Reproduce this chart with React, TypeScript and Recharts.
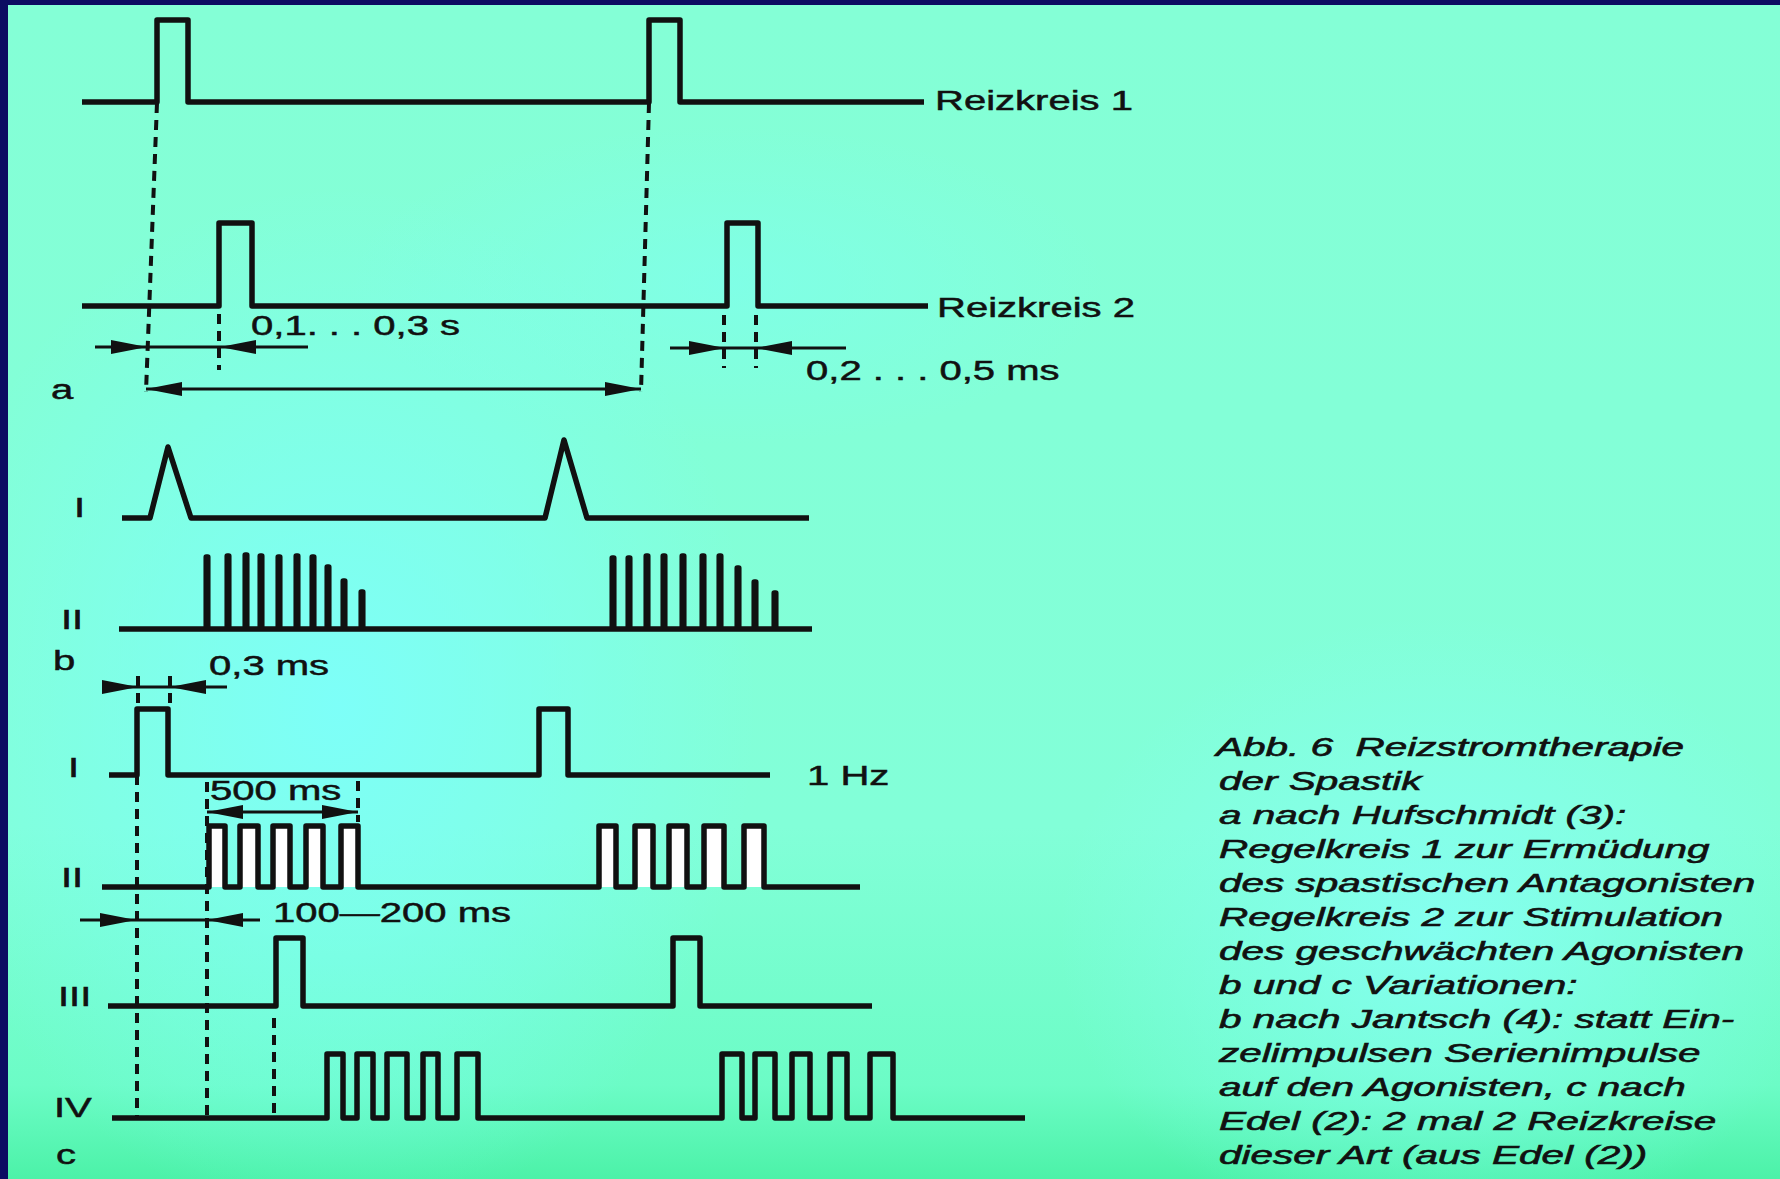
import { ComposedChart, Line, Scatter, XAxis, YAxis, ReferenceDot } from 'recharts'

// Abb. 6 Reizstromtherapie der Spastik – Impulsformen (a, b, c)
// Koordinaten: Pixel der Vorlage (x nach rechts, y nach unten)

const W = 1780
const H = 1179
const INK = '#111111'
const FONT = "'Liberation Sans', Arial, Helvetica, sans-serif"

// --- a: Reizkreis 1 / 2 (Einzelimpulse: [Anstieg, Abfall]) ---
const a1Pulses = [[157, 188], [649, 680]]
const a1Line = { start: 82, end: 924, base: 102, top: 20 }
const a2Pulses = [[219, 252], [727, 758]]
const a2Line = { start: 82, end: 928, base: 306, top: 223 }

// --- b I: Dreiecksimpulse [links, Spitze, rechts, Spitzenhöhe] ---
const b1Triangles = [[150, 168, 191, 447], [545, 564, 587, 440]]
const b1Line = { start: 122, end: 809, base: 518 }

// --- b II: Serienimpulse (Nadeln) ---
const b2SpikeX = [207, 228, 246, 261, 279, 297, 313, 328, 344, 362, 613, 629, 647, 664, 683, 703, 720, 738, 755, 775]
const b2SpikeTop = [557, 556, 555, 556, 557, 556, 557, 567, 581, 592, 558, 558, 556, 556, 556, 556, 556, 568, 582, 593]
const b2Line = { start: 119, end: 812, base: 629 }

// --- c I–IV ---
const c1Pulses = [[137, 168], [539, 568]]
const c1Line = { start: 109, end: 770, base: 775, top: 709 }
const c2Pulses = [[209, 225], [240, 258], [273, 290], [306, 323], [341, 358], [599, 616], [635, 653], [669, 687], [704, 724], [744, 764]]
const c2Line = { start: 102, end: 860, base: 887, top: 826 }
const c3Pulses = [[276, 303], [673, 700]]
const c3Line = { start: 108, end: 872, base: 1006, top: 938 }
const c4Pulses = [[327, 343], [357, 373], [387, 407], [423, 438], [457, 478], [722, 742], [755, 775], [792, 810], [830, 847], [870, 893]]
const c4Line = { start: 112, end: 1025, base: 1118, top: 1054 }

// gestrichelte Hilfslinien [x1, y1, x2, y2]
const dashedGuides = [
  [157, 103, 146, 392], [649, 103, 641, 392],
  [219, 314, 219, 370], [724, 315, 724, 368], [756, 315, 756, 368],
  [138, 676, 138, 705], [170, 676, 170, 705],
  [137, 775, 137, 1118], [207, 782, 207, 1118], [358, 781, 358, 822], [274, 1018, 274, 1117],
]

// Maßlinien [x1, x2, y]
const dimLines = [
  [95, 308, 347], [670, 846, 348], [146, 641, 389],
  [102, 227, 687], [207, 358, 812], [80, 260, 920],
]

// Pfeilspitzen [Spitze x, y, Richtung]
const arrowTips: [number, number, string][] = [
  [147, 347, 'r'], [220, 347, 'l'], [725, 348, 'r'], [756, 348, 'l'], [146, 389, 'l'], [641, 389, 'r'],
  [138, 687, 'r'], [170, 687, 'l'], [207, 812, 'l'], [358, 812, 'r'], [136, 920, 'r'], [207, 920, 'l'],
]

// Beschriftungen im Diagramm [Text, x, y]
const labels: [string, number, number][] = [
  ['Reizkreis 1', 935, 100], ['Reizkreis 2', 937, 307],
  ['0,1. . . 0,3 s', 251, 325], ['0,2 . . . 0,5 ms', 806, 370], ['a', 51, 389],
  ['I', 74, 507], ['II', 61, 619], ['b', 53, 660], ['0,3 ms', 209, 665],
  ['I', 68, 767], ['1 Hz', 807, 775], ['500 ms', 210, 790], ['II', 61, 877],
  ['100—200 ms', 273, 912], ['III', 58, 996], ['IV', 54, 1107], ['c', 56, 1154],
]

const captionLines = [
  'Abb. 6  Reizstromtherapie',
  'der Spastik',
  'a nach Hufschmidt (3):',
  'Regelkreis 1 zur Ermüdung',
  'des spastischen Antagonisten',
  'Regelkreis 2 zur Stimulation',
  'des geschwächten Agonisten',
  'b und c Variationen:',
  'b nach Jantsch (4): statt Ein-',
  'zelimpulsen Serienimpulse',
  'auf den Agonisten, c nach',
  'Edel (2): 2 mal 2 Reizkreise',
  'dieser Art (aus Edel (2))',
]

type Pt = { x: number; y: number }

function pulseTrain(l: { start: number; end: number; base: number; top: number }, pulses: number[][]): Pt[] {
  const pts: Pt[] = [{ x: l.start, y: l.base }]
  pulses.forEach(([r, f]) => {
    pts.push({ x: r, y: l.base }, { x: r, y: l.top }, { x: f, y: l.top }, { x: f, y: l.base })
  })
  pts.push({ x: l.end, y: l.base })
  return pts
}

function triangleTrain(l: { start: number; end: number; base: number }, tris: number[][]): Pt[] {
  const pts: Pt[] = [{ x: l.start, y: l.base }]
  tris.forEach(([a, p, b, py]) => {
    pts.push({ x: a, y: l.base }, { x: p, y: py }, { x: b, y: l.base })
  })
  pts.push({ x: l.end, y: l.base })
  return pts
}

function spikeTrain(l: { start: number; end: number; base: number }, xs: number[], tops: number[]): Pt[] {
  const pts: Pt[] = [{ x: l.start, y: l.base }]
  xs.forEach((x, i) => {
    pts.push({ x: x - 0.8, y: l.base }, { x: x - 0.8, y: tops[i] }, { x: x + 0.8, y: tops[i] }, { x: x + 0.8, y: l.base })
  })
  pts.push({ x: l.end, y: l.base })
  return pts
}

const waves: Pt[][] = [
  pulseTrain(a1Line, a1Pulses),
  pulseTrain(a2Line, a2Pulses),
  triangleTrain(b1Line, b1Triangles),
  spikeTrain(b2Line, b2SpikeX, b2SpikeTop),
  pulseTrain(c1Line, c1Pulses),
  pulseTrain(c2Line, c2Pulses),
  pulseTrain(c3Line, c3Pulses),
  pulseTrain(c4Line, c4Pulses),
]
const arrowData = arrowTips.map(([x, y, dir]) => ({ x, y, dir }))

const ArrowHead = (props: any) => {
  const { cx, cy, payload } = props
  const L = 36
  const h = 7
  const s = payload.dir === 'r' ? -1 : 1
  return <polygon points={`${cx},${cy} ${cx + s * L},${cy - h} ${cx + s * L},${cy + h}`} fill={INK} />
}

const TextMark = ({ cx, cy, text, size, sx, italic, weight }: any) => (
  <text
    transform={`translate(${cx},${cy}) scale(${sx},1)`}
    fontSize={size}
    fontFamily={FONT}
    fontStyle={italic ? 'italic' : 'normal'}
    fill={INK}
    stroke={INK}
    strokeWidth={weight}
    dominantBaseline="central"
    style={{ whiteSpace: 'pre' }}
  >
    {text}
  </text>
)

const bg = [
  'radial-gradient(ellipse 420px 520px at 330px 700px, rgba(125,255,250,0.95), rgba(125,255,250,0) 100%)',
  'radial-gradient(ellipse 380px 160px at 720px 280px, rgba(125,255,240,0.6), rgba(125,255,240,0) 100%)',
  'radial-gradient(ellipse 380px 320px at 1430px 930px, rgba(135,255,245,0.85), rgba(135,255,245,0) 100%)',
  'linear-gradient(180deg, #84ffd6 0%, #82ffd8 70%, #6cfcc6 92%, #4cf2a8 100%)',
].join(', ')

export default function App() {
  return (
    <div style={{ position: 'absolute', left: 0, top: 0, width: W, height: H, background: '#0c0c62', overflow: 'hidden' }}>
      <div style={{ position: 'absolute', left: 8, top: 5, right: 0, bottom: 0, background: bg }} />
      <div style={{ position: 'absolute', left: 0, top: 0 }}>
        <ComposedChart width={W} height={H} margin={{ top: 0, right: 0, bottom: 0, left: 0 }}>
          <XAxis type="number" dataKey="x" domain={[0, W]} hide allowDuplicatedCategory={false} />
          <YAxis type="number" dataKey="y" domain={[0, H]} reversed hide />

          {/* weiße Füllung der Impulse in c II */}
          {c2Pulses.map(([r, f], i) => (
            <Line
              key={`f${i}`}
              data={[{ x: (r + f) / 2, y: c2Line.top }, { x: (r + f) / 2, y: c2Line.base }]}
              dataKey="y"
              type="linear"
              stroke="#ffffff"
              strokeWidth={f - r}
              dot={false}
              activeDot={false}
              isAnimationActive={false}
            />
          ))}

          {dashedGuides.map(([x1, y1, x2, y2], i) => (
            <Line
              key={`d${i}`}
              data={[{ x: x1, y: y1 }, { x: x2, y: y2 }]}
              dataKey="y"
              type="linear"
              stroke={INK}
              strokeWidth={4}
              strokeDasharray="10 7"
              dot={false}
              activeDot={false}
              isAnimationActive={false}
            />
          ))}

          {dimLines.map(([x1, x2, y], i) => (
            <Line
              key={`m${i}`}
              data={[{ x: x1, y }, { x: x2, y }]}
              dataKey="y"
              type="linear"
              stroke={INK}
              strokeWidth={3}
              dot={false}
              activeDot={false}
              isAnimationActive={false}
            />
          ))}

          {waves.map((pts, i) => (
            <Line
              key={`w${i}`}
              data={pts}
              dataKey="y"
              type="linear"
              stroke={INK}
              strokeWidth={5.5}
              strokeLinejoin="round"
              dot={false}
              activeDot={false}
              isAnimationActive={false}
            />
          ))}

          <Scatter data={arrowData} dataKey="y" shape={ArrowHead} isAnimationActive={false} />

          {labels.map(([t, x, y], i) => (
            <ReferenceDot
              key={`l${i}`}
              x={x}
              y={y}
              r={0}
              shape={(p: any) => <TextMark cx={p.cx} cy={p.cy} text={t} size={28} sx={1.43} weight={0.5} />}
            />
          ))}

          {captionLines.map((t, i) => (
            <ReferenceDot
              key={`c${i}`}
              x={i === 0 ? 1216 : 1219}
              y={747 + i * 34}
              r={0}
              shape={(p: any) => <TextMark cx={p.cx} cy={p.cy} text={t} size={25} sx={1.62} italic weight={0.6} />}
            />
          ))}
        </ComposedChart>
      </div>
    </div>
  )
}
